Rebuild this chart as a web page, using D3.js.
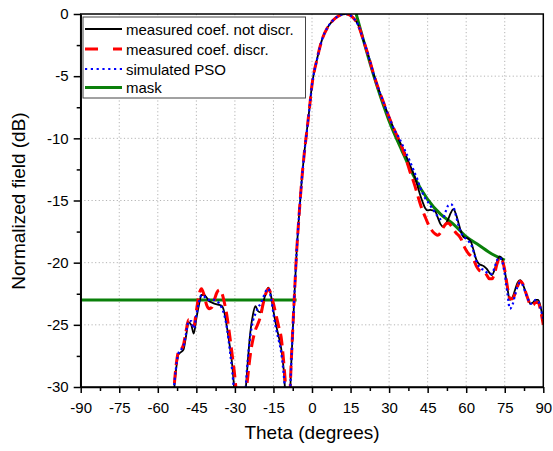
<!DOCTYPE html>
<html>
<head>
<meta charset="utf-8">
<script src="https://cdn.jsdelivr.net/npm/d3@7"></script>
<style>
body { margin: 0; background: #fff; }
svg { font-family: "Liberation Sans", Arial, sans-serif; }
</style>
</head>
<body>
<div id="main"></div>
<script>
// angles shared by the three measured/simulated curves
var theta = [
    -56, -54, -53, -52, -51, -50, -49, -48, -47, -46,
    -45, -44, -43, -42, -41, -40, -39, -38, -37, -36,
    -35, -34, -33, -32, -31, -30, -29, -28, -27, -26,
    -25, -24, -23, -22, -21, -20, -19, -18, -17, -16,
    -15, -14, -13, -12, -11, -10, -9, -8, -7, -6,
    -5, -4, -3, -2, -1, 0, 2, 4, 6, 8,
    10, 12, 13, 14, 16, 18, 20, 22, 24, 26,
    28, 30, 32, 34, 36, 38, 40, 41, 42, 43,
    44, 45, 46, 47, 48, 49, 50, 51, 52, 53,
    54, 55, 56, 57, 58, 59, 60, 61, 62, 63,
    64, 65, 66, 67, 68, 69, 70, 71, 72, 73,
    74, 75, 76, 77, 78, 79, 80, 81, 82, 83,
    84, 85, 86, 87, 88, 89, 90
];

var measNotDiscr = [
    -34, -31, -28.8, -27.4, -27.2, -27.0, -25.9, -24.8, -25.0, -25.7,
    -24.5, -23.4, -22.6, -22.6, -22.8, -23.1, -23.2, -23.3, -23.35, -23.4,
    -23.5, -24.1, -25.3, -26.7, -28.3, -30.8, -33, -34, -33, -30.8,
    -28.0, -25.6, -24.2, -23.5, -23.9, -24.0, -23.2, -22.5, -22.0, -22.6,
    -23.9, -25.0, -25.9, -26.9, -28.6, -31.5, -32, -27.8, -23.3, -19.2,
    -16.1, -13.4, -11.2, -9.4, -7.6, -5.7, -3.6, -2.0, -1.1, -0.55,
    -0.2, -0.03, 0, -0.03, -0.3, -0.9, -2.1, -3.4, -4.85, -6.1,
    -7.2, -8.3, -9.3, -10.2, -11.1, -12.1, -13.1, -13.8, -14.5, -15.1,
    -15.6, -15.8, -15.75, -15.8, -15.9, -16.4, -16.9, -17.1, -16.9, -16.5,
    -16.0, -15.7, -16.1, -16.8, -17.5, -17.95, -18.0, -18.1, -18.4, -19.1,
    -19.8, -20.1, -20.2, -20.3, -20.5, -20.8, -21.0, -20.6, -19.9, -19.5,
    -19.7, -20.6, -22.0, -23.0, -22.8, -22.2, -21.6, -21.4, -21.7, -22.3,
    -22.9, -23.3, -23.2, -23.0, -23.0, -23.6, -24.6
];

var measDiscr = [
    -34, -30.8, -28.5, -27.2, -27.0, -26.6, -25.5, -24.6, -24.8, -25.1,
    -23.9, -22.6, -22.1, -22.6, -23.4, -23.7, -23.6, -23.0, -22.4, -22.2,
    -22.5, -23.3, -24.4, -25.9, -27.5, -29.2, -31.5, -34, -33, -31.2,
    -29.2, -27.4, -26.2, -25.4, -24.9, -24.3, -23.3, -22.5, -22.1, -22.5,
    -23.3, -24.2, -25.1, -26.0, -28.0, -30.5, -31.8, -27.6, -23.3, -19.2,
    -16.1, -13.4, -11.2, -9.4, -7.6, -5.7, -3.6, -2.0, -1.1, -0.55,
    -0.2, -0.03, 0, -0.03, -0.3, -0.9, -2.1, -3.4, -4.85, -6.1,
    -7.2, -8.3, -9.3, -10.2, -11.3, -12.6, -13.8, -14.5, -15.2, -15.8,
    -16.3, -16.8, -17.2, -17.5, -17.7, -17.8, -17.6, -17.2, -16.9, -16.8,
    -17.0, -17.3, -17.6, -17.8, -18.1, -18.6, -19.0, -19.3, -19.5, -19.8,
    -20.3, -20.6, -20.7, -20.8, -21.0, -21.3, -21.3, -20.9, -20.1, -19.6,
    -19.8, -20.6, -21.9, -22.9, -22.9, -22.5, -21.9, -21.5, -21.7, -22.3,
    -22.9, -23.4, -23.4, -23.2, -23.2, -23.9, -25.0
];

var simulatedPso = [
    -34, -30.6, -28.6, -27.3, -27.0, -26.7, -25.7, -24.7, -24.7, -25.3,
    -24.2, -23.2, -22.6, -22.7, -22.9, -23.0, -23.0, -23.0, -23.1, -23.3,
    -23.7, -24.3, -25.4, -27.0, -28.8, -31.2, -33, -34, -33, -30.6,
    -27.8, -25.9, -24.7, -24.1, -23.6, -23.3, -22.8, -22.3, -22.1, -22.8,
    -24.1, -25.3, -26.2, -27.2, -29.0, -31.5, -32, -27.8, -23.3, -19.2,
    -16.1, -13.4, -11.2, -9.4, -7.6, -5.7, -3.6, -2.0, -1.1, -0.55,
    -0.2, -0.03, 0, -0.03, -0.3, -0.9, -2.1, -3.4, -4.85, -6.1,
    -7.2, -8.3, -9.3, -10.0, -10.9, -11.8, -12.8, -13.3, -13.9, -14.4,
    -14.8, -15.1, -15.4, -15.7, -16.0, -16.3, -16.5, -16.4, -15.9, -15.4,
    -15.3, -15.5, -16.2, -17.0, -17.6, -17.9, -18.1, -18.3, -18.6, -19.2,
    -19.9, -20.3, -20.5, -20.6, -20.8, -20.9, -20.9, -20.4, -19.8, -19.6,
    -19.9, -20.9, -22.4, -23.7, -23.4, -22.6, -21.9, -21.6, -21.8, -22.4,
    -22.9, -23.3, -23.2, -23.0, -23.1, -23.7, -24.6
];

// mask: flat sidelobe limit + shaped part after the main beam
var maskLeftTheta = [-90, -6];
var maskLeftDb = [-23, -23];
var maskRightTheta = [17.2, 20, 25, 30, 35, 40, 45, 50, 55, 60, 65, 70, 75];
var maskRightDb = [0, -2.1, -5.6, -8.6, -11.0, -13.2, -14.9, -16.1, -16.9, -17.9, -18.6, -19.3, -19.8];

var xTicks = [-90, -75, -60, -45, -30, -15, 0, 15, 30, 45, 60, 75, 90];
var yTicks = [0, -5, -10, -15, -20, -25, -30];

var legendNames = ["measured coef. not discr.", "measured coef. discr.", "simulated PSO", "mask"];

var ctx = {
    w: 462.6,
    h: 373,
    margin: { top: 14, right: 10, bottom: 64, left: 80.7 },
};

var toPoints = function (xs, ys) {
    return xs.map(function (t, i) {
        return [t, ys[i]];
    });
};

var createViz = function () {
    var svg = d3.select("#main").append("svg")
        .attr("width", 553)
        .attr("height", 451);
    svg = svg.append("g")
        .attr("transform", "translate(" + ctx.margin.left + "," + ctx.margin.top + ")");
    drawChart(svg);
};

var drawChart = function (svg) {
    var x = d3.scaleLinear().domain([-90, 90]).range([0, ctx.w]);
    var y = d3.scaleLinear().domain([-30, 0]).range([ctx.h, 0]);

    // dotted grid
    svg.append("g").selectAll("line")
        .data(xTicks.slice(1, -1))
        .enter().append("line")
        .attr("x1", function (d) { return x(d); })
        .attr("x2", function (d) { return x(d); })
        .attr("y1", 0)
        .attr("y2", ctx.h)
        .attr("stroke", "#b4b4b4")
        .attr("stroke-width", 1)
        .attr("stroke-dasharray", "1.2,2.4");
    svg.append("g").selectAll("line")
        .data(yTicks.slice(1, -1))
        .enter().append("line")
        .attr("x1", 0)
        .attr("x2", ctx.w)
        .attr("y1", function (d) { return y(d); })
        .attr("y2", function (d) { return y(d); })
        .attr("stroke", "#b4b4b4")
        .attr("stroke-width", 1)
        .attr("stroke-dasharray", "1.2,2.4");

    svg.append("clipPath").attr("id", "plotclip")
        .append("rect")
        .attr("x", 0).attr("y", 0)
        .attr("width", ctx.w).attr("height", ctx.h);

    var line = d3.line()
        .x(function (d) { return x(d[0]); })
        .y(function (d) { return y(d[1]); })
        .curve(d3.curveMonotoneX);

    var plot = svg.append("g").attr("clip-path", "url(#plotclip)");

    plot.append("path")
        .datum(toPoints(maskLeftTheta, maskLeftDb))
        .attr("d", line)
        .attr("fill", "none")
        .attr("stroke", "#0a800a")
        .attr("stroke-width", 3);
    plot.append("path")
        .datum(toPoints(maskRightTheta, maskRightDb))
        .attr("d", line)
        .attr("fill", "none")
        .attr("stroke", "#0a800a")
        .attr("stroke-width", 3);

    plot.append("path")
        .datum(toPoints(theta, measNotDiscr))
        .attr("d", line)
        .attr("fill", "none")
        .attr("stroke", "#000")
        .attr("stroke-width", 1.8);

    plot.append("path")
        .datum(toPoints(theta, measDiscr))
        .attr("d", line)
        .attr("fill", "none")
        .attr("stroke", "#ff0000")
        .attr("stroke-width", 3)
        .attr("stroke-dasharray", "12,6");

    plot.append("path")
        .datum(toPoints(theta, simulatedPso))
        .attr("d", line)
        .attr("fill", "none")
        .attr("stroke", "#0000ff")
        .attr("stroke-width", 2.2)
        .attr("stroke-dasharray", "2.2,3");

    // frame
    svg.append("rect")
        .attr("width", ctx.w)
        .attr("height", ctx.h)
        .attr("fill", "none")
        .attr("stroke", "#000")
        .attr("stroke-width", 1.5);

    // minor ticks
    var xMinor = xTicks.slice(0, -1).map(function (d) { return d + 7.5; });
    var yMinor = yTicks.slice(0, -1).map(function (d) { return d - 2.5; });
    svg.append("g")
        .attr("transform", "translate(0," + ctx.h + ")")
        .call(d3.axisBottom(x).tickValues(xMinor).tickSize(4).tickFormat(""))
        .call(function (g) { g.select(".domain").remove(); })
        .selectAll("line").attr("stroke-width", 1.5);
    svg.append("g")
        .call(d3.axisLeft(y).tickValues(yMinor).tickSize(4).tickFormat(""))
        .call(function (g) { g.select(".domain").remove(); })
        .selectAll("line").attr("stroke-width", 1.5);

    // major axes
    var xAxis = svg.append("g")
        .attr("transform", "translate(0," + ctx.h + ")")
        .call(d3.axisBottom(x).tickValues(xTicks).tickSize(6).tickSizeOuter(0)
            .tickPadding(9).tickFormat(function (d) { return String(d); }));
    var yAxis = svg.append("g")
        .call(d3.axisLeft(y).tickValues(yTicks).tickSize(7).tickSizeOuter(0)
            .tickPadding(5).tickFormat(function (d) { return String(d); }));
    [xAxis, yAxis].forEach(function (a) {
        a.select(".domain").attr("stroke-width", 1.5);
        a.selectAll(".tick line").attr("stroke-width", 1.5);
        a.selectAll("text")
            .attr("font-family", "Liberation Sans, Arial, sans-serif")
            .attr("font-size", 15)
            .attr("fill", "#000");
    });

    // axis titles
    svg.append("text")
        .attr("x", ctx.w / 2)
        .attr("y", 425)
        .attr("text-anchor", "middle")
        .attr("font-size", 19)
        .text("Theta (degrees)");
    svg.append("text")
        .attr("transform", "translate(" + (25 - ctx.margin.left) + "," + (201 - ctx.margin.top) + ") rotate(-90)")
        .attr("text-anchor", "middle")
        .attr("font-size", 19)
        .text("Normalized field (dB)");

    // legend
    var leg = svg.append("g")
        .attr("transform", "translate(" + (83 - ctx.margin.left) + "," + (17 - ctx.margin.top) + ")");
    leg.append("rect")
        .attr("width", 222.5)
        .attr("height", 81)
        .attr("fill", "#fff")
        .attr("stroke", "#444")
        .attr("stroke-width", 1);
    var legStyles = [
        { color: "#000", width: 1.8, dash: null },
        { color: "#ff0000", width: 3, dash: "13,15" },
        { color: "#0000ff", width: 2.2, dash: "2.2,3.6" },
        { color: "#0a800a", width: 3, dash: null },
    ];
    var rowY = [12, 32, 52, 70.5];
    legendNames.forEach(function (name, i) {
        var s = legStyles[i];
        leg.append("line")
            .attr("x1", 2).attr("x2", 39)
            .attr("y1", rowY[i]).attr("y2", rowY[i])
            .attr("stroke", s.color)
            .attr("stroke-width", s.width)
            .attr("stroke-dasharray", s.dash);
        leg.append("text")
            .attr("x", 43)
            .attr("y", rowY[i] + 5.5)
            .attr("font-size", 15)
            .text(name);
    });
};

createViz();
</script>
</body>
</html>
